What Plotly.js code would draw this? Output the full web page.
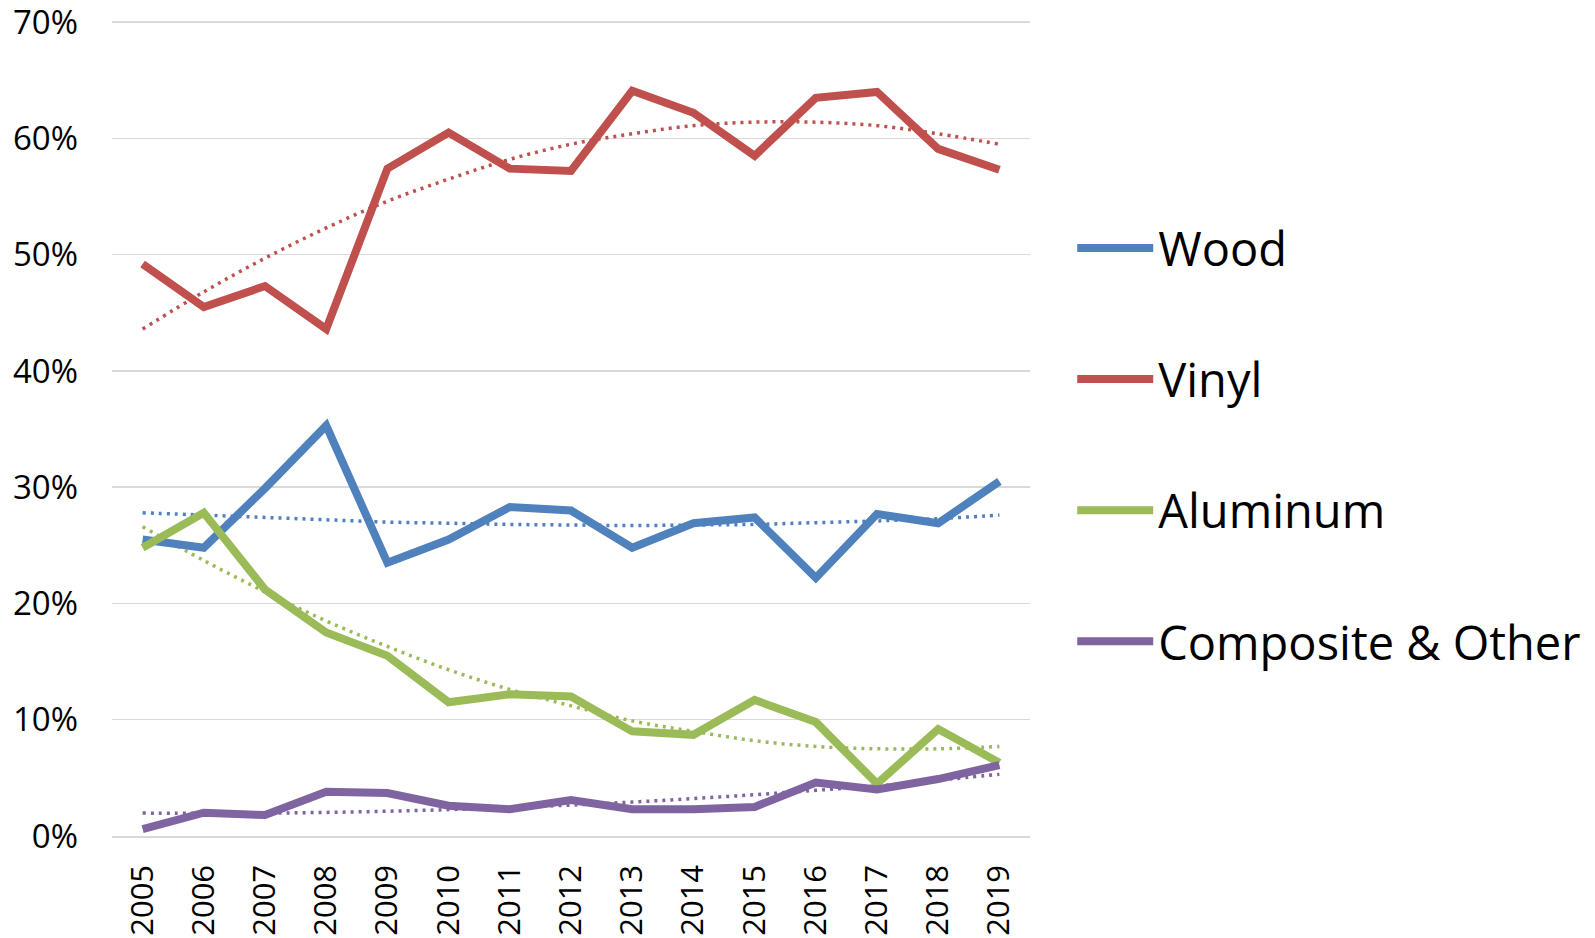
<!DOCTYPE html>
<html>
<head>
<meta charset="utf-8">
<script src="https://cdn.plot.ly/plotly-3.0.1.min.js"></script>
<style>html,body{margin:0;padding:0;background:#fff;}#chart{width:1595px;height:938px;}</style>
</head>
<body>
<div id="chart"></div>
<script>
const years = ["2005","2006","2007","2008","2009","2010","2011","2012","2013","2014","2015","2016","2017","2018","2019"];
const wood = [25.5,24.8,29.9,35.3,23.5,25.5,28.3,28.0,24.8,26.9,27.4,22.2,27.7,26.9,30.5];
const vinyl = [49.2,45.5,47.3,43.6,57.4,60.5,57.4,57.2,64.1,62.2,58.5,63.5,64.0,59.1,57.3];
const aluminum = [24.8,27.8,21.2,17.5,15.5,11.5,12.2,12.0,9.0,8.7,11.7,9.8,4.5,9.2,6.3];
const composite = [0.6,2.0,1.8,3.8,3.7,2.6,2.3,3.1,2.3,2.3,2.5,4.6,4.0,4.9,6.1];
// dotted trendlines
const woodTrend = [27.8,27.6,27.4,27.2,27.0,26.9,26.8,26.75,26.7,26.75,26.8,26.95,27.1,27.3,27.6];
const vinylTrend = [43.6,46.8,49.7,52.3,54.6,56.5,58.2,59.5,60.4,61.1,61.4,61.4,61.1,60.4,59.5];
const aluminumTrend = [26.6,23.7,21.0,18.5,16.3,14.3,12.6,11.2,9.9,9.0,8.2,7.7,7.5,7.5,7.7];
const compositeTrend = [1.97,1.95,1.97,2.03,2.13,2.27,2.45,2.66,2.92,3.22,3.55,3.93,4.3,4.8,5.3];
const yTickVals = [0,10,20,30,40,50,60,70];
const yTickText = ["0%","10%","20%","30%","40%","50%","60%","70%"];

const seriesNames = ["Wood","Vinyl","Aluminum","Composite & Other"];
const colors = ["#4F81BD","#C0504D","#9BBB59","#8064A2"];
const values = [wood, vinyl, aluminum, composite];
const trends = [woodTrend, vinylTrend, aluminumTrend, compositeTrend];

const traces = [];
trends.forEach((t,i)=>{
  traces.push({x:years,y:t,type:'scatter',mode:'lines',showlegend:false,legendgroup:'g'+i,
    line:{color:colors[i],width:3.5,dash:'3px,5px',shape:'spline'},hoverinfo:'skip'});
});
values.forEach((v,i)=>{
  traces.push({x:years,y:v,type:'scatter',mode:'lines',name:seriesNames[i],legendgroup:'g'+i,
    line:{color:colors[i],width:8}});
});

const layout = {
  width:1595,height:938,
  margin:{l:112,r:565,t:21,b:102,pad:0,autoexpand:false},
  paper_bgcolor:'#fff',plot_bgcolor:'#fff',
  font:{family:'"Open Sans", sans-serif',color:'#000'},
  xaxis:{type:'category',range:[-0.5,14.5],tickangle:-90,showgrid:false,zeroline:false,
    showline:true,linecolor:'#D9D9D9',linewidth:1.5,ticks:'',ticklabelstandoff:15,
    ticklabeloverflow:'allow',tickfont:{size:31,color:'#000'}},
  yaxis:{range:[0,70.1],tickmode:'array',tickvals:yTickVals,ticktext:yTickText,showgrid:true,gridcolor:'#D9D9D9',gridwidth:1.5,
    zeroline:false,showline:false,ticks:'',ticklabelstandoff:33,ticklabeloverflow:'allow',
    tickfont:{size:33,color:'#000'}},
  showlegend:true,
  legend:{x:1.046,xanchor:'left',y:0.767,yanchor:'top',font:{size:47,color:'#000'},
    traceorder:'grouped',tracegroupgap:67,itemwidth:76,bgcolor:'rgba(0,0,0,0)',borderwidth:0}
};
Plotly.newPlot('chart',traces,layout,{displayModeBar:false,staticPlot:true});
</script>
</body>
</html>
